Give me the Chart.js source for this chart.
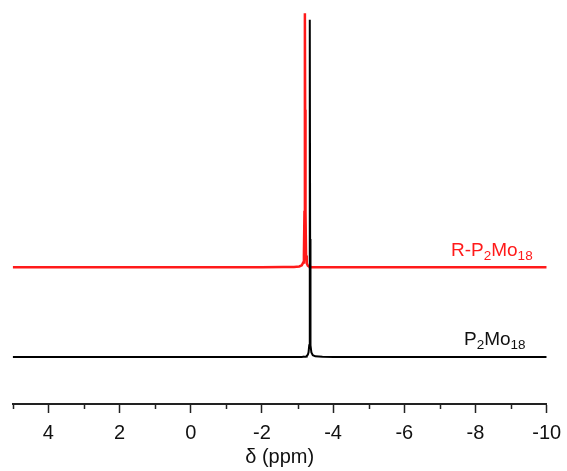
<!DOCTYPE html>
<html>
<head>
<meta charset="utf-8">
<title>31P NMR</title>
<script src="https://cdn.jsdelivr.net/npm/chart.js@4"></script>
<style>
  html, body { margin: 0; padding: 0; background: #fff; }
  #wrap { width: 567px; height: 471px; }
</style>
</head>
<body>
<div id="wrap"><canvas id="nmr"></canvas></div>
<script>
// chemical shift (ppm), dense around the two signals
const shift = [5.0, 4.0, 3.0, 2.0, 1.0, 0.0, -1.0, -2.0, -2.6, -2.9, -3.05, -3.12, -3.16, -3.18, -3.195, -3.205,
  -3.21, -3.215, -3.225, -3.24, -3.26, -3.29, -3.31, -3.33, -3.34, -3.345, -3.35, -3.355, -3.36, -3.37,
  -3.39, -3.43, -3.5, -3.7, -4.0, -5.0, -6.0, -7.0, -8.0, -9.0, -10.0];

// intensities above each baseline
const redSignal = [0, 0, 0, 0, 0, 0, 0, 0, 0.05, 0.1, 0.2, 0.5, 1.2, 3, 14, 40,
  64.5, 40, 14, 3, 1, 0.4, 0.25, 0.15, 0.1, 0.1, 0.1, 0.1, 0.1, 0.08,
  0.05, 0.03, 0, 0, 0, 0, 0, 0, 0, 0, 0];
const blackSignal = [0, 0, 0, 0, 0, 0, 0, 0, 0, 0, 0.02, 0.05, 0.07, 0.08, 0.1, 0.1,
  0.1, 0.1, 0.12, 0.15, 0.3, 0.6, 1.2, 3, 8, 30,
  85.6, 30, 8, 3, 1.2, 0.5, 0.2, 0.08, 0.03, 0, 0, 0, 0, 0, 0];

const redOffset = 34.7;
const blackOffset = 11.9;

const majorTicks = [4, 2, 0, -2, -4, -6, -8, -10];
const minorTicks = [5, 3, 1, -1, -3, -5, -7, -9];

function toPoints(vals, off) {
  return shift.map((x, i) => ({ x: x, y: vals[i] + off }));
}

const extras = {
  id: 'extras',
  afterDraw(chart) {
    const ctx = chart.ctx;
    const xs = chart.scales.x;
    const y0 = chart.chartArea.bottom;
    ctx.save();
    ctx.strokeStyle = '#222';
    ctx.lineWidth = 1.5;
    minorTicks.forEach(v => {
      const px = Math.round(xs.getPixelForValue(v)) + 0.5;
      ctx.beginPath();
      ctx.moveTo(px, y0);
      ctx.lineTo(px, y0 + 5);
      ctx.stroke();
    });

    // trace labels
    const drawLabel = (parts, x, y, color) => {
      ctx.fillStyle = color;
      ctx.textBaseline = 'alphabetic';
      let cx = x;
      parts.forEach(p => {
        ctx.font = p.sub ? '13.5px "Liberation Sans", Arial, sans-serif' : '19px "Liberation Sans", Arial, sans-serif';
        ctx.fillText(p.t, cx, p.sub ? y + 4 : y);
        cx += ctx.measureText(p.t).width;
      });
    };
    drawLabel([{ t: 'R-P' }, { t: '2', sub: true }, { t: 'Mo' }, { t: '18', sub: true }], 451, 256, '#ff1a1a');
    drawLabel([{ t: 'P' }, { t: '2', sub: true }, { t: 'Mo' }, { t: '18', sub: true }], 464, 345, '#111');
    ctx.restore();
  }
};

new Chart(document.getElementById('nmr'), {
  type: 'line',
  data: {
    datasets: [
      {
        label: 'P2Mo18',
        data: toPoints(blackSignal, blackOffset),
        borderColor: '#000',
        borderWidth: 2,
        pointRadius: 0,
        tension: 0,
        order: 0
      },
      {
        label: 'R-P2Mo18',
        data: toPoints(redSignal, redOffset),
        borderColor: '#ff1a1a',
        borderWidth: 2.5,
        pointRadius: 0,
        tension: 0,
        order: 1
      }
    ]
  },
  options: {
    responsive: true,
    maintainAspectRatio: false,
    animation: false,
    layout: { padding: { left: 12.7, right: 20.3, top: 10, bottom: 0 } },
    plugins: { legend: { display: false }, tooltip: { enabled: false } },
    scales: {
      x: {
        type: 'linear',
        reverse: true,
        min: -10,
        max: 5,
        afterBuildTicks: s => { s.ticks = majorTicks.map(v => ({ value: v })); },
        // let the layout padding alone decide the plot width
        afterFit: s => { s.paddingLeft = 0; s.paddingRight = 0; },
        border: { display: true, color: '#222', width: 2 },
        grid: { drawOnChartArea: false, drawTicks: true, tickLength: 9, tickColor: '#222', tickWidth: 1.5 },
        ticks: {
          color: '#111',
          padding: 8,
          maxRotation: 0,
          autoSkip: false,
          font: { family: '"Liberation Sans", Arial, sans-serif', size: 20 }
        },
        title: {
          display: true,
          text: 'δ (ppm)',
          color: '#111',
          padding: { top: -6, bottom: 4 },
          font: { family: '"Liberation Sans", Arial, sans-serif', size: 20, lineHeight: 1 }
        }
      },
      y: { display: false, min: 0, max: 100 }
    }
  },
  plugins: [extras]
});
</script>
</body>
</html>
